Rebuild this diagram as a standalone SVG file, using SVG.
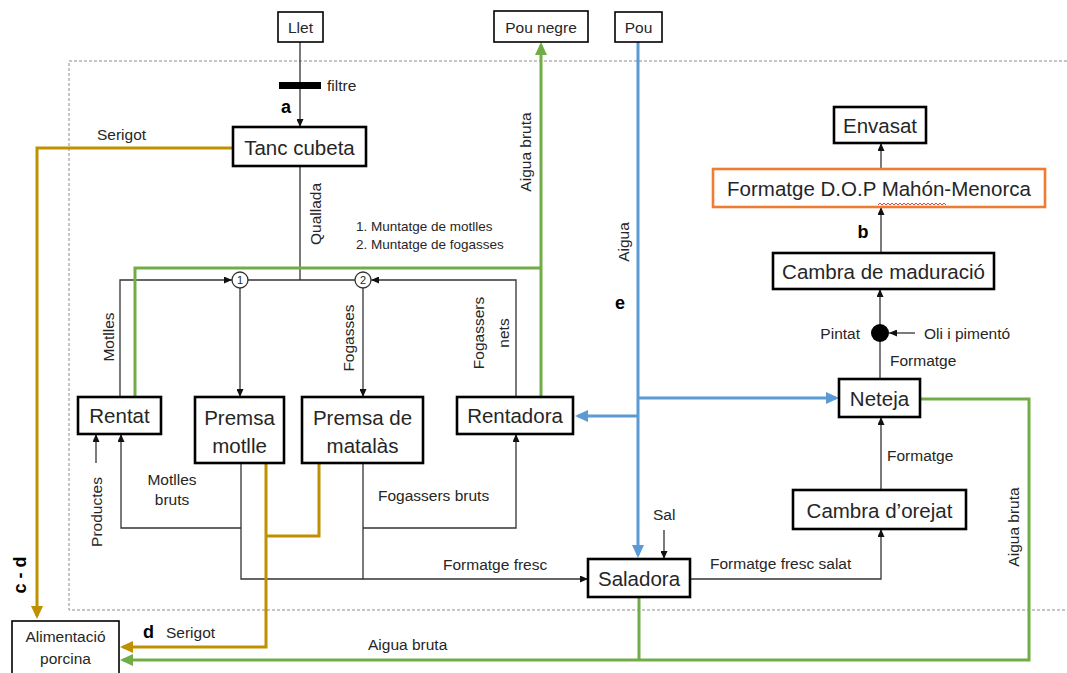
<svg xmlns="http://www.w3.org/2000/svg" width="1067" height="673" viewBox="0 0 1067 673">
  <style>
    text { font-family: "Liberation Sans", Arial, sans-serif; fill: #262626; }
    .box { fill: #fff; stroke: #000; stroke-width: 2.6; }
    .thin { fill: #fff; stroke: #000; stroke-width: 1.6; }
    .big { font-size: 20.5px; }
    .mid { font-size: 15.5px; }
    .lbl { font-size: 15.5px; }
    .sm { font-size: 13.5px; }
    .bold { font-size: 18px; font-weight: bold; fill: #000; }
    .c { text-anchor: middle; dominant-baseline: central; }
    .s { dominant-baseline: central; }
    .e { text-anchor: end; dominant-baseline: central; }
    .ln { fill: none; stroke: #333; stroke-width: 1.3; }
    .green { fill: none; stroke: #70AD47; stroke-width: 3; }
    .brown { fill: none; stroke: #BF9000; stroke-width: 3; }
    .blue { fill: none; stroke: #5B9BD5; stroke-width: 3; }
  </style>
  <defs>
    <marker id="arr" markerUnits="userSpaceOnUse" markerWidth="8" markerHeight="7" refX="8" refY="3.5" orient="auto">
      <path d="M0,0 L8,3.5 L0,7 z" fill="#111"/>
    </marker>
    <marker id="arrG" markerUnits="userSpaceOnUse" markerWidth="13" markerHeight="12" refX="10" refY="6" orient="auto">
      <path d="M0,0 L13,6 L0,12 z" fill="#70AD47"/>
    </marker>
    <marker id="arrB" markerUnits="userSpaceOnUse" markerWidth="13" markerHeight="12" refX="10" refY="6" orient="auto">
      <path d="M0,0 L13,6 L0,12 z" fill="#BF9000"/>
    </marker>
    <marker id="arrU" markerUnits="userSpaceOnUse" markerWidth="13" markerHeight="12" refX="10" refY="6" orient="auto">
      <path d="M0,0 L13,6 L0,12 z" fill="#5B9BD5"/>
    </marker>
  </defs>

  <rect width="1067" height="673" fill="#fff"/>

  <!-- plant boundary -->
  <path d="M1067,61 H69 V610 H1067" fill="none" stroke="#8a8a8a" stroke-width="1" stroke-dasharray="3,2"/>

  <g id="connectors">
    <!-- milk line and filter -->
    <path class="ln" d="M300,42 V82" stroke="#888"/>
    <rect x="279" y="82" width="42" height="7" fill="#000"/>
    <path class="ln" d="M300,89 V127" marker-end="url(#arr)"/>
    <!-- curd to mould assembly -->
    <path class="ln" d="M300,166 V280"/>
    <path class="ln" d="M120,397 V280 H232" marker-end="url(#arr)"/>
    <path class="ln" d="M248,280 H355"/>
    <path class="ln" d="M516,397 V280 H371" marker-end="url(#arr)"/>
    <path class="ln" d="M240,288 V397" marker-end="url(#arr)"/>
    <path class="ln" d="M363,288 V397" marker-end="url(#arr)"/>
    <!-- washing returns -->
    <path class="ln" d="M96,463 V434" marker-end="url(#arr)"/>
    <path class="ln" d="M241,463 V579 H363"/>
    <path class="ln" d="M241,528 H121 V434" marker-end="url(#arr)"/>
    <path class="ln" d="M363,463 V579 H588" marker-end="url(#arr)"/>
    <path class="ln" d="M363,528 H516 V434" marker-end="url(#arr)"/>
    <!-- salting and ripening -->
    <path class="ln" d="M664,530 V559" marker-end="url(#arr)"/>
    <path class="ln" d="M690,579 H881 V529" marker-end="url(#arr)"/>
    <path class="ln" d="M881,490 V417" marker-end="url(#arr)"/>
    <path class="ln" d="M880,379 V340"/>
    <path class="ln" d="M880,326 V289" marker-end="url(#arr)"/>
    <path class="ln" d="M915,333 H889" marker-end="url(#arr)"/>
    <path class="ln" d="M881,253 V207" marker-end="url(#arr)"/>
    <path class="ln" d="M881,169 V143" marker-end="url(#arr)"/>

    <!-- waste water -->
    <path class="green" d="M135,397 V268 H541"/>
    <path class="green" d="M541,397 V45" marker-end="url(#arrG)"/>
    <path class="green" d="M920,399 H1029 V660 H123" marker-end="url(#arrG)"/>
    <path class="green" d="M639,597 V660"/>

    <!-- whey -->
    <path class="brown" d="M233,148 H37 V616" marker-end="url(#arrB)"/>
    <path class="brown" d="M266,463 V647 H123" marker-end="url(#arrB)"/>
    <path class="brown" d="M319,463 V536 H266"/>

    <!-- well water -->
    <path class="blue" d="M638,42 V555" marker-end="url(#arrU)"/>
    <path class="blue" d="M638,398 H836" marker-end="url(#arrU)"/>
    <path class="blue" d="M638,416 H578" marker-end="url(#arrU)"/>
  </g>

  <!-- junction nodes -->
  <g id="mix1">
    <circle cx="240" cy="280" r="8" fill="#fff" stroke="#333" stroke-width="1.3"/>
    <text class="c" x="240" y="280" font-size="11">1</text>
  </g>
  <g id="mix2">
    <circle cx="363" cy="280" r="8" fill="#fff" stroke="#333" stroke-width="1.3"/>
    <text class="c" x="363" y="280" font-size="11">2</text>
  </g>
  <g id="pintat">
    <circle cx="880" cy="333" r="9" fill="#000"/>
  </g>

  <g id="llet">
    <rect class="thin" x="278" y="12" width="45" height="30"/>
    <text class="c mid" x="300.5" y="27">Llet</text>
  </g>
  <g id="pou-negre">
    <rect class="thin" x="494" y="11" width="94" height="31"/>
    <text class="c mid" x="541" y="27">Pou negre</text>
  </g>
  <g id="pou">
    <rect class="thin" x="615" y="12" width="47" height="30"/>
    <text class="c mid" x="638.5" y="27">Pou</text>
  </g>
  <g id="tanc-cubeta">
    <rect class="box" x="233" y="127" width="133" height="39"/>
    <text class="c big" x="299.5" y="147">Tanc cubeta</text>
  </g>
  <g id="envasat">
    <rect class="box" x="834" y="107" width="92" height="36"/>
    <text class="c big" x="880" y="125">Envasat</text>
  </g>
  <g id="formatge-dop">
    <rect x="713" y="169" width="332" height="38" fill="#fff" stroke="#ED7D31" stroke-width="2.6"/>
    <text class="c big" x="879" y="188">Formatge D.O.P Mahón-Menorca</text>
    <path d="M878,205 l2,-2 l2,2 l2,-2 l2,2 l2,-2 l2,2 l2,-2 l2,2 l2,-2 l2,2 l2,-2 l2,2 l2,-2 l2,2 l2,-2 l2,2 l2,-2 l2,2 l2,-2 l2,2 l2,-2 l2,2 l2,-2 l2,2 l2,-2 l2,2 l2,-2 l2,2 l2,-2 l2,2 l2,-2 l2,2 l2,-2 l2,2" fill="none" stroke="#e03030" stroke-width="0.9"/>
  </g>
  <g id="cambra-maduracio">
    <rect class="box" x="773" y="253" width="221" height="36"/>
    <text class="c big" x="883.5" y="271">Cambra de maduració</text>
  </g>
  <g id="neteja">
    <rect class="box" x="839" y="379" width="81" height="38"/>
    <text class="c big" x="879.5" y="398">Neteja</text>
  </g>
  <g id="cambra-orejat">
    <rect class="box" x="793" y="490" width="173" height="39"/>
    <text class="c big" x="879.5" y="510">Cambra d’orejat</text>
  </g>
  <g id="saladora">
    <rect class="box" x="588" y="559" width="102" height="38"/>
    <text class="c big" x="639" y="578">Saladora</text>
  </g>
  <g id="rentat">
    <rect class="box" x="78" y="397" width="83" height="37"/>
    <text class="c big" x="119.5" y="415.5">Rentat</text>
  </g>
  <g id="premsa-motlle">
    <rect class="box" x="195" y="397" width="89" height="66"/>
    <text class="c big" x="239.5" y="417">Premsa</text>
    <text class="c big" x="239.5" y="445">motlle</text>
  </g>
  <g id="premsa-matalas">
    <rect class="box" x="302" y="397" width="121" height="66"/>
    <text class="c big" x="362.5" y="417">Premsa de</text>
    <text class="c big" x="362.5" y="445">matalàs</text>
  </g>
  <g id="rentadora">
    <rect class="box" x="457" y="397" width="116" height="37"/>
    <text class="c big" x="515" y="415.5">Rentadora</text>
  </g>
  <g id="alimentacio-porcina">
    <rect class="thin" x="12" y="621" width="107" height="60"/>
    <text class="c mid" x="65.5" y="636">Alimentació</text>
    <text class="c mid" x="65.5" y="658">porcina</text>
  </g>

  <g id="labels">
    <text class="s lbl" x="327" y="85">filtre</text>
    <text class="c bold" x="286" y="107">a</text>
    <text class="s lbl" x="97" y="134">Serigot</text>
    <text class="c lbl" transform="translate(315,214) rotate(-90)">Quallada</text>
    <text class="s sm" x="356" y="226">1. Muntatge de motlles</text>
    <text class="s sm" x="356" y="244">2. Muntatge de fogasses</text>
    <text class="c lbl" transform="translate(525,152) rotate(-90)">Aigua bruta</text>
    <text class="c lbl" transform="translate(623,242) rotate(-90)">Aigua</text>
    <text class="c bold" x="620" y="303">e</text>
    <text class="c bold" x="863" y="232">b</text>
    <text class="c lbl" transform="translate(108,337) rotate(-90)">Motlles</text>
    <text class="c lbl" transform="translate(348,338) rotate(-90)">Fogasses</text>
    <text class="c lbl" transform="translate(478,333) rotate(-90)">Fogassers</text>
    <text class="c lbl" transform="translate(503,333) rotate(-90)">nets</text>
    <text class="e lbl" x="860" y="333">Pintat</text>
    <text class="s lbl" x="924" y="333">Oli i pimentó</text>
    <text class="s lbl" x="890" y="360">Formatge</text>
    <text class="s lbl" x="887" y="455">Formatge</text>
    <text class="c lbl" transform="translate(96,512) rotate(-90)">Productes</text>
    <text class="c lbl" x="172" y="479">Motlles</text>
    <text class="c lbl" x="172" y="499">bruts</text>
    <text class="s lbl" x="378" y="495">Fogassers bruts</text>
    <text class="s lbl" x="443" y="564">Formatge fresc</text>
    <text class="s lbl" x="653" y="514">Sal</text>
    <text class="s lbl" x="710" y="563">Formatge fresc salat</text>
    <text class="c lbl" transform="translate(1013,527) rotate(-90)">Aigua bruta</text>
    <text class="c bold" transform="translate(20,575) rotate(-90)">c - d</text>
    <text class="s bold" x="143" y="632">d</text>
    <text class="s lbl" x="166" y="632">Serigot</text>
    <text class="s lbl" x="368" y="644">Aigua bruta</text>
  </g>
</svg>
